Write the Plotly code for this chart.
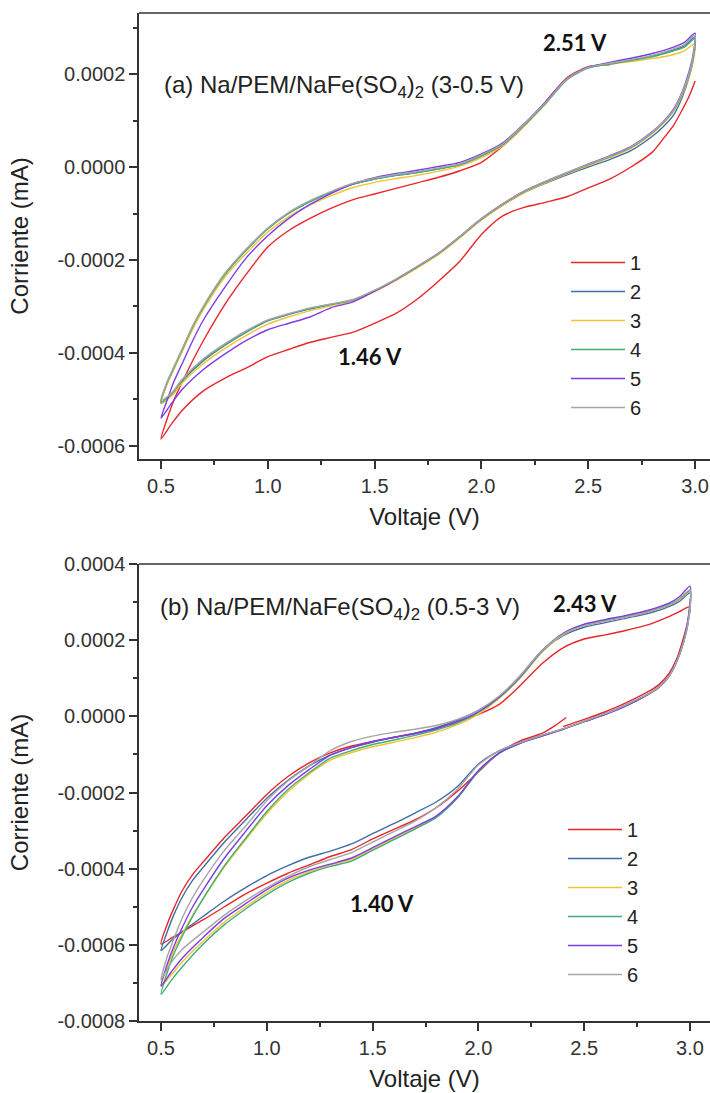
import plotly.graph_objects as go

# ---------------- data (currents in units of 1e-4 mA) ----------------
CYCLES = ["1", "2", "3", "4", "5", "6"]
COLORS = ["#E8262A", "#3F6EA6", "#F2C230", "#3FAE78", "#7E3BE6", "#A6A6A6"]
SCALE = 1e-4

V_DOWN = [3.0, 2.99, 2.97, 2.94, 2.9, 2.85, 2.8, 2.7, 2.6, 2.5, 2.4, 2.3, 2.2, 2.1, 2.0,
          1.9, 1.8, 1.7, 1.6, 1.5, 1.4, 1.3, 1.2, 1.1, 1.0, 0.9, 0.8, 0.7, 0.6, 0.55, 0.5]
V_UP = [0.53, 0.56, 0.6, 0.65, 0.7, 0.8, 0.9, 1.0, 1.1, 1.2, 1.3, 1.4, 1.5, 1.6, 1.7,
        1.8, 1.9, 2.0, 2.1, 2.2, 2.3, 2.4, 2.5, 2.6, 2.7, 2.8, 2.9, 2.95, 3.0]

# Panel (a): Na/PEM/NaFe(SO4)2 (3-0.5 V)
A_DOWN = {
    "1": [1.85, 1.72, 1.50, 1.23, 0.90, 0.60, 0.32, 0.00, -0.26, -0.45, -0.64, -0.76, -0.87, -1.05, -1.45,
          -2.02, -2.45, -2.84, -3.15, -3.36, -3.55, -3.66, -3.77, -3.92, -4.08, -4.32, -4.54, -4.81, -5.23, -5.52, -5.85],
    "2": [2.80, 2.28, 1.90, 1.50, 1.12, 0.86, 0.66, 0.35, 0.16, 0.00, -0.17, -0.35, -0.55, -0.82, -1.13,
          -1.50, -1.86, -2.15, -2.42, -2.66, -2.86, -2.96, -3.05, -3.17, -3.31, -3.55, -3.83, -4.16, -4.60, -4.90, -5.08],
    "3": [2.65, 2.25, 1.92, 1.55, 1.20, 0.93, 0.72, 0.40, 0.20, 0.03, -0.15, -0.34, -0.55, -0.82, -1.14,
          -1.52, -1.88, -2.17, -2.44, -2.68, -2.88, -2.98, -3.09, -3.22, -3.38, -3.62, -3.90, -4.22, -4.64, -4.92, -5.08],
    "4": [2.76, 2.30, 1.95, 1.58, 1.22, 0.95, 0.74, 0.42, 0.22, 0.05, -0.13, -0.32, -0.53, -0.80, -1.12,
          -1.50, -1.86, -2.15, -2.42, -2.66, -2.86, -2.95, -3.04, -3.16, -3.30, -3.54, -3.82, -4.14, -4.58, -4.88, -5.05],
    "5": [2.88, 2.40, 2.02, 1.62, 1.25, 0.97, 0.76, 0.44, 0.24, 0.06, -0.12, -0.31, -0.52, -0.79, -1.11,
          -1.49, -1.85, -2.14, -2.42, -2.67, -2.90, -3.02, -3.22, -3.36, -3.50, -3.73, -4.02, -4.35, -4.78, -5.08, -5.40],
    "6": [2.84, 2.36, 1.98, 1.60, 1.23, 0.96, 0.75, 0.43, 0.23, 0.06, -0.12, -0.31, -0.52, -0.79, -1.11,
          -1.49, -1.85, -2.14, -2.41, -2.65, -2.85, -2.94, -3.03, -3.15, -3.29, -3.52, -3.80, -4.12, -4.56, -4.86, -5.02],
}
A_UP = {
    "1": [-5.40, -5.02, -4.62, -4.15, -3.72, -2.95, -2.30, -1.72, -1.36, -1.10, -0.88, -0.70, -0.58, -0.46, -0.34,
          -0.22, -0.08, 0.10, 0.45, 0.88, 1.40, 1.92, 2.16, 2.20],
    "2": [-4.64, -4.33, -3.93, -3.43, -3.01, -2.31, -1.78, -1.33, -0.99, -0.74, -0.54, -0.37, -0.26, -0.18, -0.12,
          -0.04, 0.05, 0.24, 0.48, 0.90, 1.37, 1.88, 2.13, 2.22, 2.30, 2.39, 2.52, 2.60, 2.80],
    "3": [-4.66, -4.36, -3.96, -3.47, -3.05, -2.36, -1.85, -1.40, -1.06, -0.81, -0.61, -0.44, -0.33, -0.25, -0.18,
          -0.09, 0.02, 0.20, 0.46, 0.88, 1.36, 1.90, 2.15, 2.21, 2.27, 2.33, 2.42, 2.50, 2.65],
    "4": [-4.62, -4.32, -3.92, -3.42, -3.00, -2.30, -1.78, -1.33, -0.99, -0.74, -0.54, -0.37, -0.26, -0.18, -0.12,
          -0.04, 0.05, 0.24, 0.48, 0.90, 1.36, 1.88, 2.13, 2.21, 2.29, 2.37, 2.50, 2.58, 2.76],
    "5": [-5.00, -4.62, -4.22, -3.72, -3.28, -2.58, -1.95, -1.48, -1.10, -0.80, -0.56, -0.36, -0.23, -0.14, -0.07,
          0.01, 0.10, 0.28, 0.52, 0.93, 1.40, 1.90, 2.15, 2.25, 2.34, 2.44, 2.58, 2.68, 2.88],
    "6": [-4.60, -4.30, -3.90, -3.40, -2.98, -2.28, -1.76, -1.31, -0.97, -0.72, -0.52, -0.35, -0.24, -0.16, -0.10,
          -0.02, 0.07, 0.26, 0.50, 0.92, 1.38, 1.89, 2.14, 2.23, 2.31, 2.40, 2.54, 2.63, 2.84],
}

# Panel (b): Na/PEM/NaFe(SO4)2 (0.5-3 V)
B_DOWN = {
    "1": [2.88, 2.50, 2.08, 1.55, 1.12, 0.82, 0.64, 0.36, 0.12, -0.08, -0.27, -0.45, -0.64, -0.95, -1.46,
          -1.97, -2.40, -2.72, -2.97, -3.22, -3.50, -3.68, -3.90, -4.12, -4.38, -4.66, -5.00, -5.34, -5.66, -5.82, -5.98],
    "2": [3.24, 2.42, 1.95, 1.48, 1.05, 0.76, 0.58, 0.31, 0.07, -0.13, -0.33, -0.50, -0.68, -0.90, -1.25,
          -1.85, -2.25, -2.54, -2.82, -3.08, -3.35, -3.54, -3.70, -3.92, -4.18, -4.50, -4.85, -5.25, -5.66, -5.88, -6.15],
    "3": [3.28, 2.45, 1.96, 1.47, 1.04, 0.74, 0.56, 0.28, 0.05, -0.14, -0.34, -0.52, -0.70, -0.96, -1.44,
          -2.13, -2.64, -2.93, -3.21, -3.49, -3.76, -3.90, -4.08, -4.31, -4.62, -5.00, -5.40, -5.90, -6.45, -6.78, -7.10],
    "4": [3.30, 2.48, 1.97, 1.48, 1.05, 0.75, 0.57, 0.28, 0.05, -0.14, -0.34, -0.52, -0.70, -0.96, -1.45,
          -2.15, -2.66, -2.96, -3.24, -3.52, -3.80, -3.94, -4.12, -4.36, -4.68, -5.06, -5.47, -5.98, -6.58, -6.92, -7.30],
    "5": [3.42, 2.52, 1.98, 1.48, 1.05, 0.75, 0.57, 0.28, 0.05, -0.14, -0.34, -0.52, -0.70, -0.96, -1.42,
          -2.12, -2.62, -2.90, -3.17, -3.45, -3.72, -3.88, -4.04, -4.25, -4.55, -4.92, -5.30, -5.80, -6.35, -6.70, -7.08],
    "6": [3.32, 2.44, 1.96, 1.48, 1.05, 0.76, 0.58, 0.31, 0.07, -0.13, -0.33, -0.50, -0.68, -0.90, -1.28,
          -1.92, -2.40, -2.75, -3.03, -3.30, -3.58, -3.76, -3.95, -4.20, -4.50, -4.84, -5.22, -5.66, -6.12, -6.45, -6.92],
}
B_UP = {
    "1": [-5.45, -5.05, -4.58, -4.15, -3.82, -3.18, -2.62, -2.05, -1.58, -1.22, -0.96, -0.78, -0.66, -0.55, -0.44,
          -0.32, -0.14, 0.05, 0.32, 0.82, 1.38, 1.80, 2.03, 2.14, 2.26, 2.40, 2.62, 2.75, 2.88],
    "2": [-5.65, -5.22, -4.75, -4.30, -3.96, -3.30, -2.72, -2.15, -1.68, -1.30, -1.02, -0.82, -0.68, -0.56, -0.45,
          -0.30, -0.10, 0.16, 0.52, 1.08, 1.72, 2.12, 2.34, 2.46, 2.58, 2.70, 2.88, 3.02, 3.24],
    "3": [-6.58, -6.15, -5.72, -5.22, -4.78, -3.95, -3.24, -2.55, -1.98, -1.52, -1.15, -0.95, -0.80, -0.68, -0.56,
          -0.42, -0.22, 0.06, 0.48, 1.02, 1.68, 2.14, 2.38, 2.50, 2.61, 2.74, 2.92, 3.06, 3.28],
    "4": [-6.72, -6.25, -5.78, -5.25, -4.78, -3.92, -3.20, -2.50, -1.92, -1.48, -1.10, -0.90, -0.74, -0.62, -0.50,
          -0.36, -0.18, 0.10, 0.50, 1.04, 1.70, 2.16, 2.40, 2.52, 2.63, 2.76, 2.94, 3.08, 3.30],
    "5": [-6.50, -6.05, -5.55, -5.00, -4.55, -3.72, -3.02, -2.35, -1.82, -1.40, -1.02, -0.82, -0.66, -0.55, -0.45,
          -0.32, -0.14, 0.12, 0.52, 1.06, 1.72, 2.18, 2.42, 2.54, 2.65, 2.78, 2.97, 3.14, 3.42],
    "6": [-6.30, -5.85, -5.30, -4.75, -4.30, -3.52, -2.88, -2.22, -1.70, -1.30, -0.90, -0.66, -0.52, -0.42, -0.34,
          -0.24, -0.08, 0.16, 0.54, 1.08, 1.72, 2.16, 2.38, 2.50, 2.61, 2.74, 2.92, 3.08, 3.32],
}
# first cycle of panel (b) starts at the open-circuit voltage (short tail)
B1_START_V = [2.415, 2.36]
B1_START_I = [-0.03, -0.25]

X_TICKS = [0.5, 1.0, 1.5, 2.0, 2.5, 3.0]
X_TICK_TEXT = ["0.5", "1.0", "1.5", "2.0", "2.5", "3.0"]
YA_TICKS = [-0.0006, -0.0004, -0.0002, 0.0, 0.0002]
YA_TICK_TEXT = ["-0.0006", "-0.0004", "-0.0002", "0.0000", "0.0002"]
YB_TICKS = [-0.0008, -0.0006, -0.0004, -0.0002, 0.0, 0.0002, 0.0004]
YB_TICK_TEXT = ["-0.0008", "-0.0006", "-0.0004", "-0.0002", "0.0000", "0.0002", "0.0004"]

# ---------------- figure ----------------
W, H = 710, 1093
AX = "#333333"
FONT = "Liberation Sans, Arial, sans-serif"

fig = go.Figure()


def add_cycle(xs, ys, idx, xa, ya, leg):
    fig.add_trace(go.Scatter(
        x=xs, y=[v * SCALE for v in ys], mode="lines", name=CYCLES[idx],
        line=dict(color=COLORS[idx], width=1.4, shape="spline", smoothing=0.7),
        xaxis=xa, yaxis=ya, legend=leg, hoverinfo="skip"))


for i, c in enumerate(CYCLES):
    up = A_UP[c]
    add_cycle(V_DOWN + V_UP[:len(up)], A_DOWN[c] + up, i, "x", "y", "legend")

for i, c in enumerate(CYCLES):
    if c == "1":
        xs = B1_START_V + V_DOWN[11:] + V_UP + V_DOWN[1:11]
        ys = B1_START_I + B_DOWN[c][11:] + B_UP[c] + B_DOWN[c][1:11]
    else:
        xs = V_DOWN + V_UP
        ys = B_DOWN[c] + B_UP[c]
    add_cycle(xs, ys, i, "x2", "y2", "legend2")


def px(x):
    return x / W


def py(y):
    return 1 - y / H


axis_common = dict(
    showline=True, linecolor=AX, linewidth=1.5, mirror=False, automargin=False,
    ticks="outside", ticklen=8, tickwidth=1.5, tickcolor=AX,
    showgrid=False, zeroline=False,
    tickfont=dict(family=FONT, size=20, color="#333333"),
)
TITLE_FONT = dict(size=24, family=FONT, color="#222222")
MINOR_X = dict(ticks="outside", ticklen=4, tickwidth=1.5, tickcolor=AX, dtick=0.25, tick0=0.25)
MINOR_Y = dict(ticks="outside", ticklen=4, tickwidth=1.5, tickcolor=AX, dtick=0.0001, tick0=0.0001)

fig.update_layout(
    width=W, height=H,
    margin=dict(l=0, r=0, t=0, b=0),
    paper_bgcolor="white", plot_bgcolor="white",
    font=dict(family=FONT, color="#222222"),
    xaxis=dict(domain=[px(139), 1.0], range=[0.397, 3.070], anchor="y",
               tickvals=X_TICKS, ticktext=X_TICK_TEXT, minor=MINOR_X,
               title=dict(text="Voltaje (V)", font=TITLE_FONT, standoff=12),
               **axis_common),
    yaxis=dict(domain=[py(459), py(13)], range=[-6.280e-4, 3.312e-4], anchor="x",
               tickvals=YA_TICKS, ticktext=YA_TICK_TEXT, minor=MINOR_Y,
               title=dict(text="Corriente (mA)", font=TITLE_FONT, standoff=22),
               **axis_common),
    xaxis2=dict(domain=[px(139), 1.0], range=[0.396, 3.0945], anchor="y2",
                tickvals=X_TICKS, ticktext=X_TICK_TEXT, minor=MINOR_X,
                title=dict(text="Voltaje (V)", font=TITLE_FONT, standoff=12),
                **axis_common),
    yaxis2=dict(domain=[py(1021), py(564)], range=[-0.0008, 0.0004], anchor="x2",
                tickvals=YB_TICKS, ticktext=YB_TICK_TEXT, minor=MINOR_Y,
                title=dict(text="Corriente (mA)", font=TITLE_FONT, standoff=22),
                **axis_common),
    legend=dict(x=px(566), y=py(243), xanchor="left", yanchor="top",
                bgcolor="rgba(0,0,0,0)", font=dict(family=FONT, size=20, color="#222222"),
                tracegroupgap=0, itemwidth=54),
    legend2=dict(x=px(563), y=py(810), xanchor="left", yanchor="top",
                 bgcolor="rgba(0,0,0,0)", font=dict(family=FONT, size=20, color="#222222"),
                 tracegroupgap=0, itemwidth=54),
    showlegend=True,
)

# top frame lines
for xr, yr in (("x domain", "y domain"), ("x2 domain", "y2 domain")):
    fig.add_shape(type="line", xref=xr, yref=yr, x0=0, x1=1, y0=1, y1=1,
                  line=dict(color=AX, width=1.5), layer="above")

LABEL_FONT = dict(family=FONT, size=24, color="#222222")
PEAK_FONT = dict(family="Lato, 'Noto Sans', sans-serif", size=22, color="#111111", weight="bold")

annotations = [
    dict(text="(a) Na/PEM/NaFe(SO<sub>4</sub>)<sub>2</sub> (3-0.5 V)", x=px(162), y=py(87),
         xanchor="left", yanchor="middle", font=LABEL_FONT),
    dict(text="(b) Na/PEM/NaFe(SO<sub>4</sub>)<sub>2</sub> (0.5-3 V)", x=px(158), y=py(608),
         xanchor="left", yanchor="middle", font=LABEL_FONT),
    dict(text="<b>2.51 V</b>", x=px(575), y=py(43), xanchor="center", yanchor="middle", font=PEAK_FONT),
    dict(text="<b>1.46 V</b>", x=px(370), y=py(356), xanchor="center", yanchor="middle", font=PEAK_FONT),
    dict(text="<b>2.43 V</b>", x=px(585), y=py(603), xanchor="center", yanchor="middle", font=PEAK_FONT),
    dict(text="<b>1.40 V</b>", x=px(382), y=py(903), xanchor="center", yanchor="middle", font=PEAK_FONT),
]
for a in annotations:
    fig.add_annotation(xref="paper", yref="paper", showarrow=False, **a)

fig.write_html("out.html")
